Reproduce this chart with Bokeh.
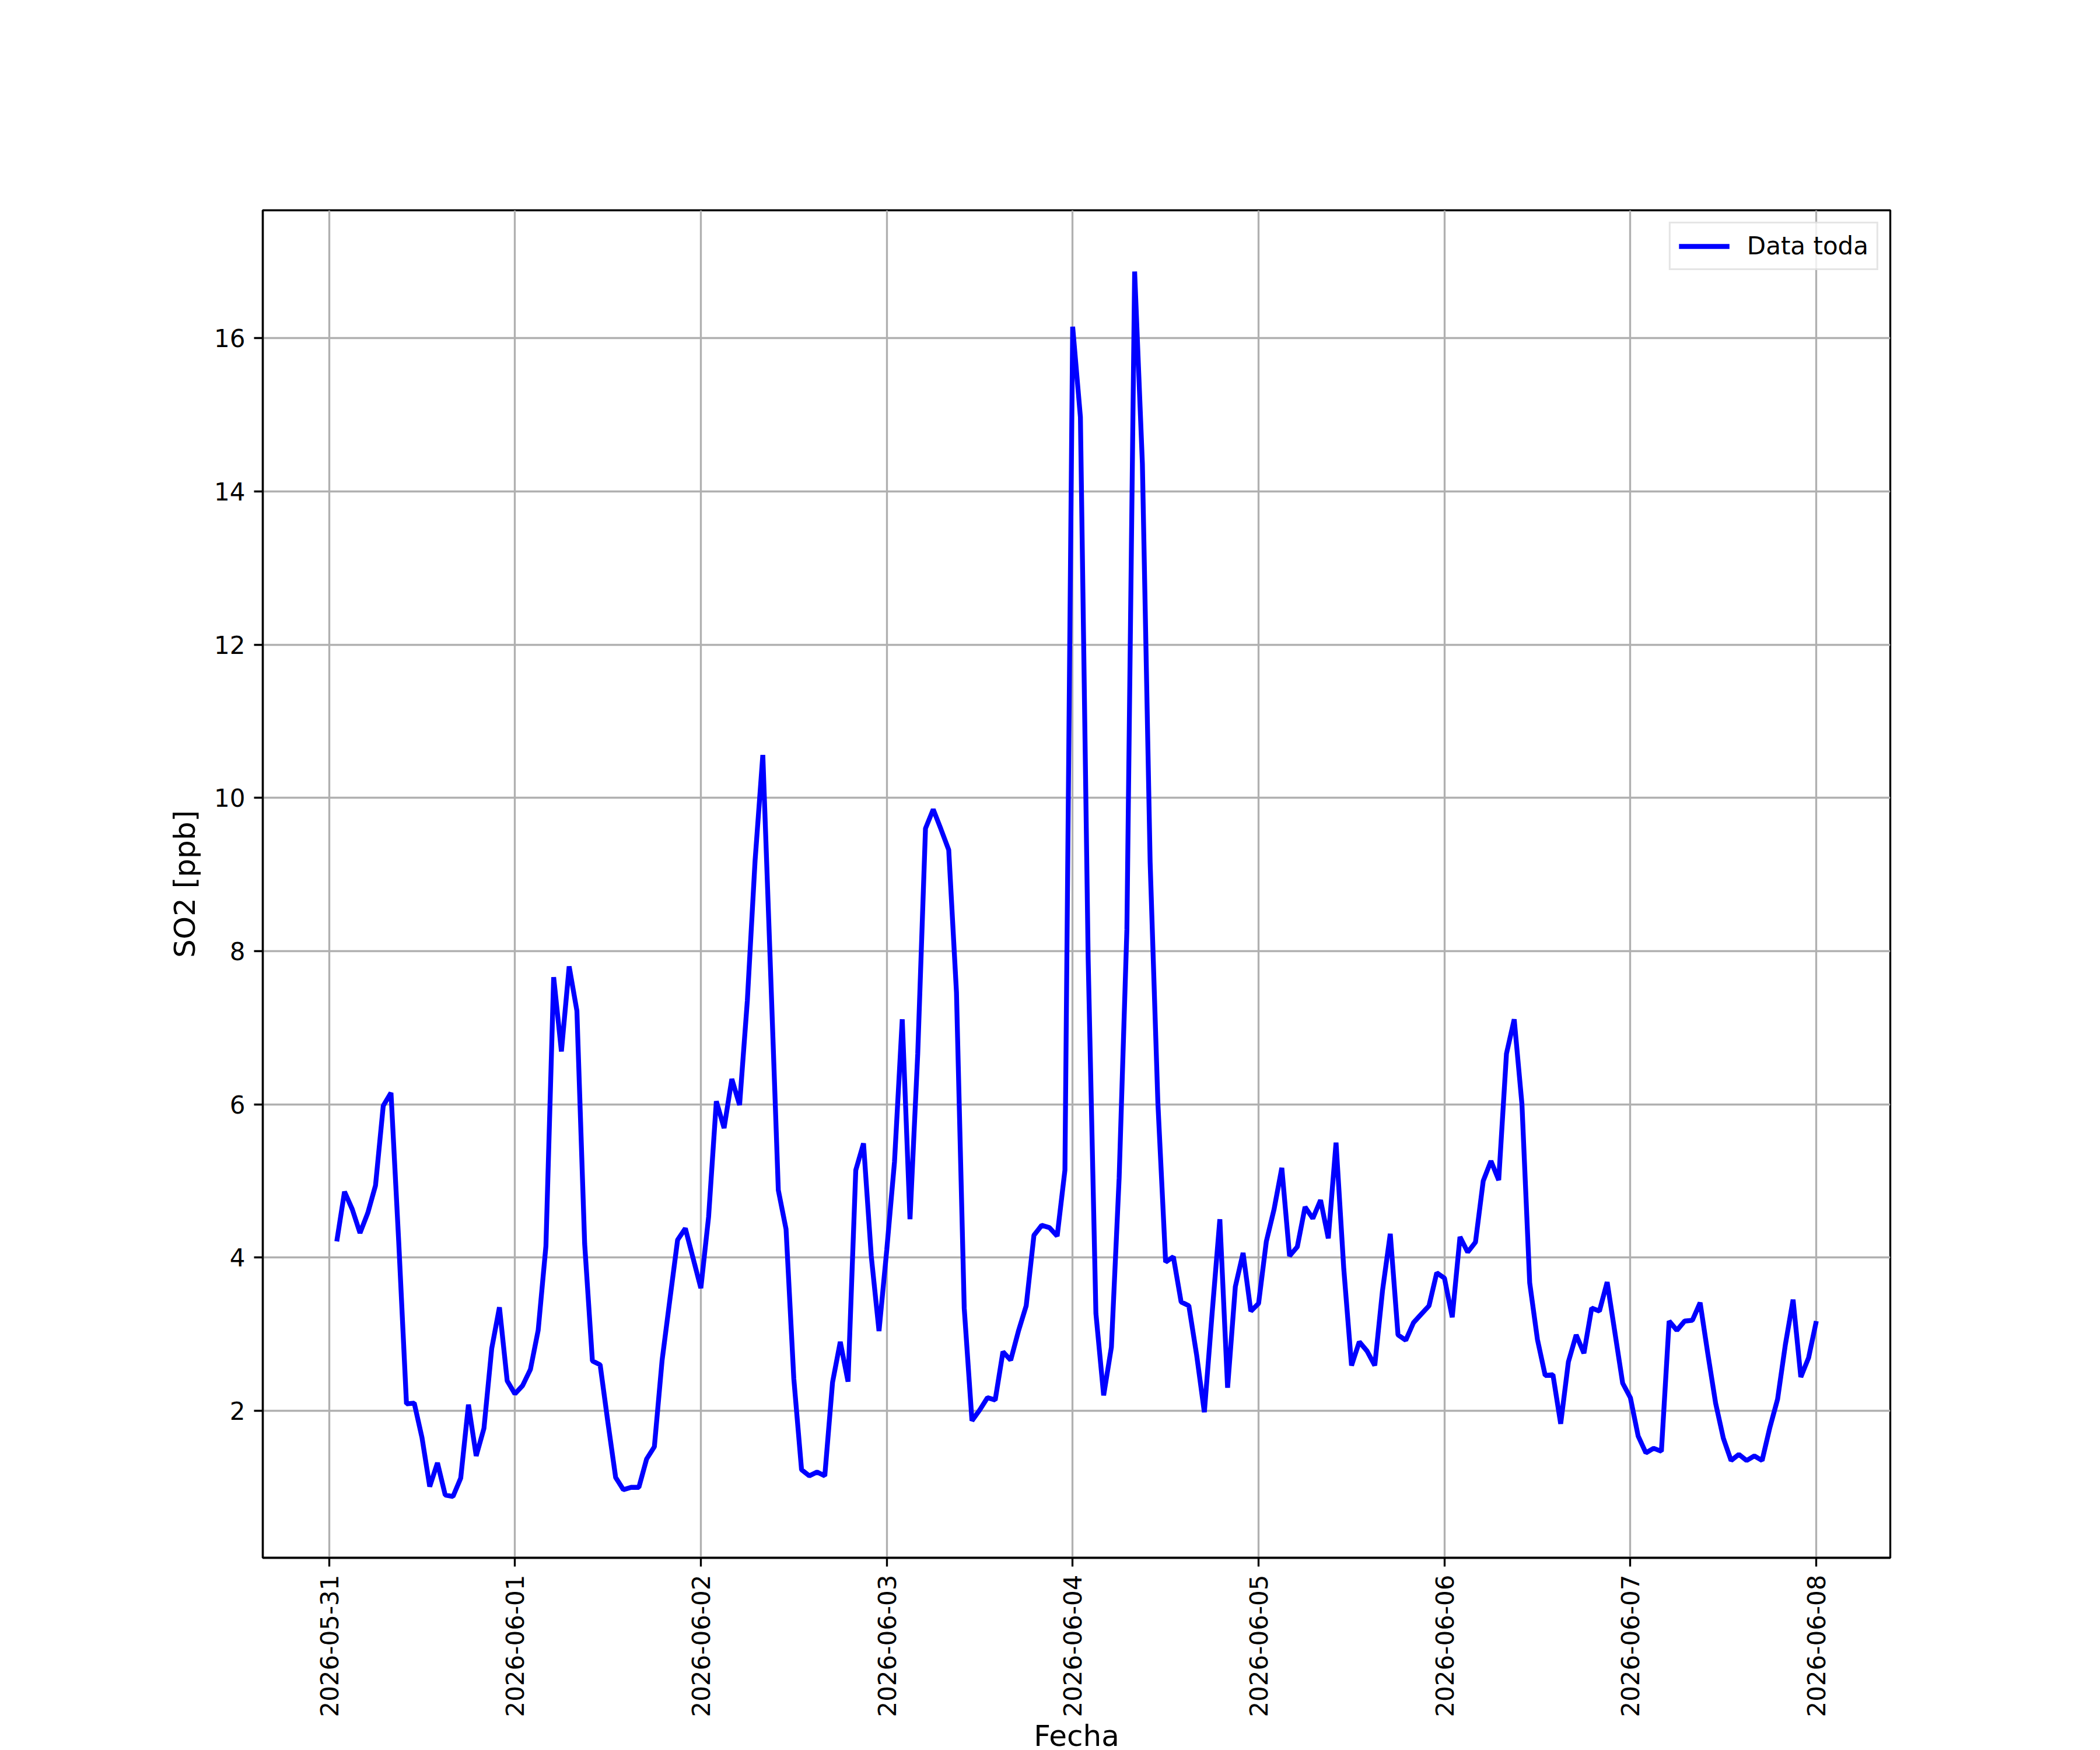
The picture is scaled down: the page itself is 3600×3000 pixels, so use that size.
import math
import numpy as np
import pandas as pd
from bokeh.plotting import figure
from bokeh.models import Range1d, FixedTicker, DatetimeTickFormatter, ColumnDataSource
from bokeh.embed import file_html
from bokeh.resources import INLINE

# ---- data (hourly SO2, ppb) ----
start_time = "2026-05-31 01:00"
day_0531 = [4.21, 4.86, 4.63, 4.32, 4.58, 4.94, 5.98, 6.15, 4.20, 2.09, 2.10, 1.65,
            1.01, 1.32, 0.90, 0.88, 1.12, 2.08, 1.41, 1.77, 2.81, 3.35, 2.39, 2.22]
day_0601 = [2.33, 2.54, 3.05, 4.15, 7.66, 6.69, 7.80, 7.22, 4.18, 2.65, 2.60, 1.85,
            1.13, 0.97, 1.00, 1.00, 1.37, 1.53, 2.66, 3.45, 4.23, 4.38, 3.99, 3.60]
day_0602 = [4.53, 6.04, 5.69, 6.33, 5.99, 7.35, 9.18, 10.56, 7.74, 4.88, 4.37, 2.42,
            1.23, 1.15, 1.20, 1.15, 2.37, 2.90, 2.38, 5.14, 5.49, 4.02, 3.04, 4.10]
day_0603 = [5.25, 7.11, 4.50, 6.66, 9.60, 9.85, 9.59, 9.32, 7.46, 3.34, 1.87, 2.01,
            2.17, 2.14, 2.77, 2.66, 3.04, 3.37, 4.29, 4.42, 4.39, 4.28, 5.14, 16.15]
day_0604 = [14.97, 7.90, 3.27, 2.20, 2.83, 5.04, 8.28, 16.87, 14.36, 9.16, 6.02, 3.94,
            4.01, 3.42, 3.37, 2.73, 1.98, 3.27, 4.50, 2.30, 3.62, 4.06, 3.30, 3.40]
day_0605 = [4.21, 4.63, 5.17, 4.02, 4.14, 4.66, 4.51, 4.75, 4.25, 5.50, 3.85, 2.59,
            2.90, 2.78, 2.59, 3.57, 4.31, 2.99, 2.92, 3.15, 3.26, 3.37, 3.80, 3.73]
day_0606 = [3.22, 4.27, 4.07, 4.20, 5.00, 5.26, 5.01, 6.66, 7.11, 6.00, 3.67, 2.93,
            2.46, 2.47, 1.83, 2.64, 2.99, 2.75, 3.34, 3.30, 3.68, 3.02, 2.36, 2.17]
day_0607 = [1.67, 1.45, 1.51, 1.47, 3.17, 3.05, 3.17, 3.18, 3.41, 2.74, 2.10, 1.64,
            1.35, 1.43, 1.35, 1.41, 1.35, 1.78, 2.15, 2.86, 3.45, 2.44, 2.69, 3.17]
tick_days = ["2026-05-31", "2026-06-01", "2026-06-02", "2026-06-03", "2026-06-04",
             "2026-06-05", "2026-06-06", "2026-06-07", "2026-06-08"]
y_ticks = [2, 4, 6, 8, 10, 12, 14, 16]
series_label = "Data toda"
x_label = "Fecha"
y_label = "SO2 [ppb]"

values = day_0531 + day_0601 + day_0602 + day_0603 + day_0604 + day_0605 + day_0606 + day_0607
times = pd.date_range(start_time, periods=len(values), freq="h")
t_ms = (times.astype("int64") // 10**6).to_numpy().astype(float)
source = ColumnDataSource(dict(t=t_ms, v=values))

# matplotlib-like 5% margins
tspan = t_ms.max() - t_ms.min()
vmin, vmax = min(values), max(values)
vspan = vmax - vmin

FONT = "DejaVu Sans"
FS = "42px"
FS_LABEL = "50px"
LW = 3.33  # 0.8pt at 300dpi

p = figure(width=3592, height=2984, output_backend="svg", toolbar_location=None,
           x_axis_type="datetime",
           x_range=Range1d(t_ms.min() - 0.05 * tspan, t_ms.max() + 0.05 * tspan),
           y_range=Range1d(vmin - 0.05 * vspan, vmax + 0.05 * vspan),
           frame_width=2790, frame_height=2310,
           min_border_left=450, min_border_right=352,
           min_border_top=360, min_border_bottom=314)
p.background_fill_color = "white"
p.border_fill_color = "white"
p.outline_line_color = "black"
p.outline_line_width = LW

p.line("t", "v", source=source, color="#0000ff", line_width=8.3,
       legend_label=series_label)

tick_ms = [pd.Timestamp(d).value // 10**6 for d in tick_days]
xt = FixedTicker(ticks=tick_ms)
yt = FixedTicker(ticks=y_ticks)
p.xaxis.ticker = xt
p.yaxis.ticker = yt
p.xgrid.ticker = xt
p.ygrid.ticker = yt
fmt = "%Y-%m-%d"
p.xaxis.formatter = DatetimeTickFormatter(days=fmt, months=fmt, years=fmt, hours=fmt,
                                          hourmin=fmt, minutes=fmt, minsec=fmt,
                                          seconds=fmt, milliseconds=fmt, microseconds=fmt)
p.xaxis.major_label_orientation = math.pi / 2

for ax in (p.xaxis, p.yaxis):
    ax.axis_line_color = "black"
    ax.axis_line_width = LW
    ax.major_tick_line_color = "black"
    ax.major_tick_line_width = LW
    ax.major_tick_out = 15
    ax.major_tick_in = 0
    ax.minor_tick_line_color = None
    ax.major_label_text_font = FONT
    ax.major_label_text_font_size = FS
    ax.major_label_text_color = "black"
    ax.axis_label_text_font = FONT
    ax.axis_label_text_font_size = FS_LABEL
    ax.axis_label_text_font_style = "normal"
    ax.axis_label_text_color = "black"

p.xaxis.major_label_standoff = 14
p.xaxis.axis_label_standoff = 0
p.yaxis.major_label_standoff = 15
p.yaxis.axis_label_standoff = 18
p.xaxis.axis_label = x_label
p.yaxis.axis_label = y_label

for g in (p.xgrid, p.ygrid):
    g.grid_line_color = "#b0b0b0"
    g.grid_line_width = LW

lg = p.legend[0]
lg.location = "top_right"
lg.margin = 20
lg.padding = 14
lg.spacing = 0
lg.glyph_width = 87
lg.glyph_height = 48
lg.label_standoff = 30
lg.label_text_font = FONT
lg.label_text_font_size = FS
lg.label_text_color = "black"
lg.border_line_color = "#cccccc"
lg.border_line_width = LW
lg.background_fill_color = "white"
lg.background_fill_alpha = 0.8

open("out.html", "w").write(file_html(p, INLINE))
